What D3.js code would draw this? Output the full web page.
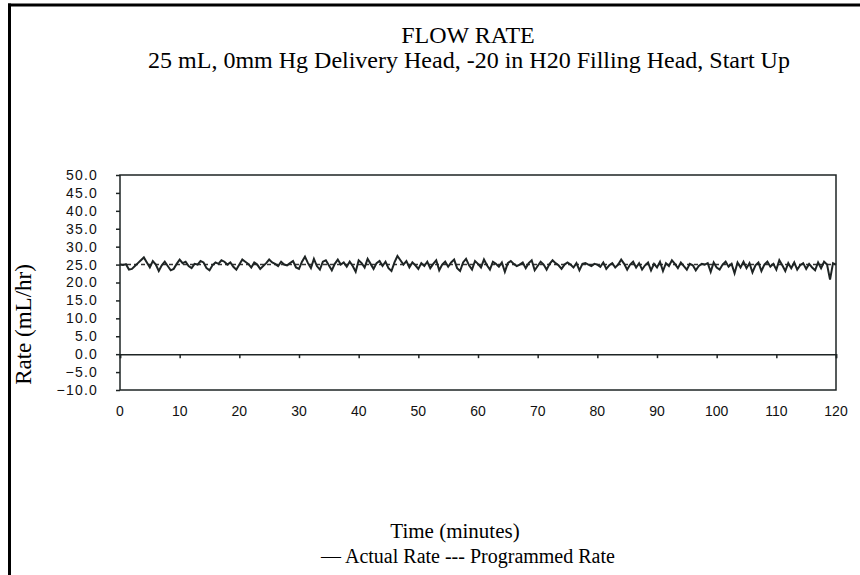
<!DOCTYPE html>
<html>
<head>
<meta charset="utf-8">
<script src="https://cdn.jsdelivr.net/npm/d3@7/dist/d3.min.js"></script>
<style>
  html, body { margin: 0; padding: 0; background: #fff; }
  svg { display: block; }
</style>
</head>
<body>
<svg id="chart" width="860" height="575"></svg>
<script>
// Flow rate samples, one every half minute from 0 to 120 min (mL/hr)
const sampleStep = 0.5;
const actualRate = [
  25.0, 24.9, 25.1, 23.6, 23.8, 24.6, 25.4, 26.2, 27.0, 25.6,
  24.2, 26.0, 25.0, 23.2, 24.8, 25.8, 24.6, 23.4, 23.8, 25.2,
  26.4, 25.4, 25.8, 24.6, 24.0, 25.2, 25.0, 26.0, 25.6, 24.0,
  23.4, 24.8, 25.6, 25.2, 26.2, 25.8, 25.0, 25.6, 24.4, 23.6,
  25.0, 26.4, 25.8, 25.2, 24.2, 25.6, 25.0, 23.8, 24.6, 25.4,
  26.4, 25.6, 25.2, 24.6, 25.8, 25.0, 24.8, 25.4, 26.0, 24.2,
  23.8, 25.8, 27.2, 25.4, 24.0, 26.6, 24.6, 23.6, 25.8, 26.2,
  24.8, 23.4, 25.2, 26.4, 25.0, 25.6, 24.4, 25.8, 24.6, 23.0,
  26.2, 25.4, 24.2, 26.6, 25.2, 23.8, 25.4, 26.0, 24.6, 25.8,
  24.0, 23.2, 25.6, 27.4, 26.2, 25.0, 26.0, 24.2, 25.6, 24.8,
  23.8, 25.4, 24.6, 25.8, 24.0, 25.2, 26.2, 23.4, 25.0, 25.8,
  24.4, 25.6, 26.4, 24.0, 23.2, 25.6, 26.6, 24.8, 23.6, 26.0,
  25.2, 24.2, 26.4, 24.8, 23.6, 25.8, 25.2, 24.4, 25.6, 23.0,
  25.4, 26.0, 25.2, 24.6, 25.0, 25.6, 24.0, 25.4, 26.2, 23.4,
  24.6, 25.8, 25.0, 23.6, 25.2, 26.2, 25.4, 24.8, 23.8, 25.0,
  25.6, 25.0, 24.2, 25.4, 23.4, 25.2, 25.4, 25.0, 24.6, 25.2,
  25.0, 24.4, 25.6, 23.8, 24.8, 25.4, 24.2, 25.0, 26.4, 25.2,
  23.6, 25.0, 25.8, 24.2, 25.4, 23.6, 24.8, 25.6, 23.4, 25.2,
  24.2, 25.8, 23.2, 25.4, 24.6, 26.2, 25.2, 24.0, 25.6, 24.6,
  23.6, 25.2, 24.8, 23.4, 24.6, 25.2, 25.0, 25.4, 23.0, 25.6,
  24.2, 23.6, 25.0, 25.8, 24.4, 25.2, 22.6, 25.6, 24.2, 25.8,
  24.0, 25.4, 22.8, 24.8, 25.6, 23.2, 25.0, 25.8, 24.4, 25.2,
  23.6, 26.2, 24.8, 23.2, 25.4, 24.0, 25.6, 23.6, 24.8, 25.4,
  23.8, 25.2, 24.2, 23.4, 25.6, 24.0, 25.8, 25.0, 20.8, 25.4,
  25.0
];
// Programmed set point over the run
const programmedTimes = [0, 120];
const programmedRate = [25, 25];

const xTicks = [0, 10, 20, 30, 40, 50, 60, 70, 80, 90, 100, 110, 120];
const yTicks = [-10, -5, 0, 5, 10, 15, 20, 25, 30, 35, 40, 45, 50];

const titleText = "FLOW RATE";
const subtitleText = "25 mL, 0mm Hg Delivery Head, -20 in H20 Filling Head, Start Up";
const yTitle = "Rate (mL/hr)";
const xTitle = "Time (minutes)";
const legendText = "\u2014 Actual Rate --- Programmed Rate";

const svg = d3.select("#chart");
const W = 860, H = 575;
const plot = { left: 120, right: 836, top: 175, bottom: 390 };

const x = d3.scaleLinear().domain([0, 120]).range([plot.left, plot.right]);
const y = d3.scaleLinear().domain([-10, 50]).range([plot.bottom, plot.top]);

const serif = "'Liberation Serif', 'Times New Roman', serif";
const sans = "'Liberation Sans', Arial, sans-serif";
const ink = "#1e2424";

// Page frame: heavy rule along the top and left edges
svg.append("line").attr("x1", 8).attr("x2", W).attr("y1", 5).attr("y2", 5)
  .attr("stroke", "#000").attr("stroke-width", 3);
svg.append("line").attr("x1", 9.5).attr("x2", 9.5).attr("y1", 3.5).attr("y2", H)
  .attr("stroke", "#000").attr("stroke-width", 3);

// Titles
svg.append("text").attr("x", 468).attr("y", 43).attr("text-anchor", "middle")
  .attr("font-family", serif).attr("font-size", 24).text(titleText);
svg.append("text").attr("x", 469).attr("y", 68).attr("text-anchor", "middle")
  .attr("font-family", serif).attr("font-size", 24).text(subtitleText);

// Plot frame
svg.append("rect")
  .attr("x", plot.left).attr("y", plot.top)
  .attr("width", plot.right - plot.left).attr("height", plot.bottom - plot.top)
  .attr("fill", "none").attr("stroke", ink).attr("stroke-width", 1.5);

// Y axis with outward ticks
const yAxis = svg.append("g").attr("transform", `translate(${plot.left},0)`)
  .call(d3.axisLeft(y).tickValues(yTicks).tickSize(4).tickPadding(18)
    .tickFormat(d3.format(".1f")));
yAxis.select(".domain").remove();
yAxis.selectAll(".tick line").attr("stroke", ink).attr("stroke-width", 1.5);
yAxis.selectAll(".tick text").attr("font-family", sans).attr("font-size", 14)
  .attr("letter-spacing", "1.2px").attr("fill", "#111");

// Zero line with downward ticks; labels sit below the frame
const xAxis = svg.append("g").attr("transform", `translate(0,${y(0)})`)
  .call(d3.axisBottom(x).tickValues(xTicks).tickSize(4).tickFormat(""));
xAxis.select(".domain").attr("stroke", ink).attr("stroke-width", 1.5);
xAxis.selectAll(".tick line").attr("stroke", ink).attr("stroke-width", 1.5);

svg.append("g").selectAll("text").data(xTicks).join("text")
  .attr("x", d => x(d)).attr("y", 416).attr("text-anchor", "middle")
  .attr("font-family", sans).attr("font-size", 14).attr("fill", "#111")
  .text(d => d);

// Programmed rate (dashed)
const progLine = d3.line().x(d => x(d[0])).y(d => y(d[1]));
svg.append("path")
  .datum(programmedTimes.map((t, i) => [t, programmedRate[i]]))
  .attr("d", progLine).attr("fill", "none")
  .attr("stroke", "#333").attr("stroke-width", 1.5).attr("stroke-dasharray", "4,3");

// Actual rate
const actLine = d3.line().x((d, i) => x(i * sampleStep)).y(d => y(d));
svg.append("path").datum(actualRate).attr("d", actLine)
  .attr("fill", "none").attr("stroke", ink).attr("stroke-width", 2)
  .attr("stroke-linejoin", "miter");

// Axis titles and legend
svg.append("text")
  .attr("transform", `translate(31,${(plot.top + plot.bottom) / 2 + 42}) rotate(-90)`)
  .attr("text-anchor", "middle").attr("font-family", serif).attr("font-size", 23)
  .text(yTitle);
svg.append("text").attr("x", 455).attr("y", 538).attr("text-anchor", "middle")
  .attr("font-family", serif).attr("font-size", 21).text(xTitle);
svg.append("text").attr("x", 468).attr("y", 563).attr("text-anchor", "middle")
  .attr("font-family", serif).attr("font-size", 20).text(legendText);
</script>
</body>
</html>
